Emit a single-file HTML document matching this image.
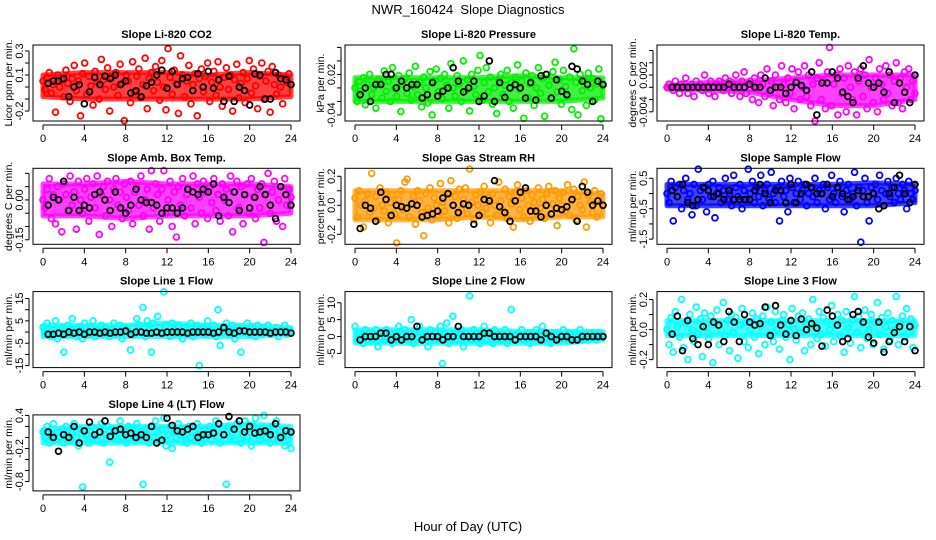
<!DOCTYPE html>
<html><head><meta charset="utf-8"><style>
html,body{margin:0;padding:0;background:#fff;}
svg{display:block;font-family:"Liberation Sans",sans-serif;}
</style></head><body>
<svg id="chart" width="936" height="540" viewBox="0 0 936 540">
<text x="468" y="14" text-anchor="middle" font-size="13">NWR_160424&#160; Slope Diagnostics</text>
<text x="468" y="531" text-anchor="middle" font-size="13">Hour of Day (UTC)</text>
</svg>
<script>
const xTicks=[0,4,8,12,16,20,24];
const bandHours=[0,4,8,12,16,20,24];
const titles=["Slope Li-820 CO2","Slope Li-820 Pressure","Slope Li-820 Temp.","Slope Amb. Box Temp.","Slope Gas Stream RH","Slope Sample Flow","Slope Line 1 Flow","Slope Line 2 Flow","Slope Line 3 Flow","Slope Line 4 (LT) Flow"];
const yTitles=["Licor ppm per min.","kPa per min.","degrees C per min.","degrees C per min.","percent per min.","ml/min per min.","ml/min per min.","ml/min per min.","ml/min per min.","ml/min per min."];
const colors=["#ff0000","#00ee00","#ff00ff","#ff00ff","#ff9900","#0000ff","#00ffff","#00ffff","#00ffff","#00ffff"];
const yMin=[-0.283,-0.049,-0.0055,-0.167,-0.269,-1.67,-15.9,-9.2,-0.253,-0.97];
const yMax=[0.35,0.0636,0.0069,0.119,0.255,0.83,18.1,13.3,0.253,0.41];
const yTickVals=[[-0.2,-0.1,0,0.1,0.2,0.3],[-0.04,-0.02,0,0.02,0.04,0.06],[-0.004,-0.002,0,0.002,0.004,0.006],[-0.15,-0.1,-0.05,0,0.05,0.1],[-0.2,-0.1,0,0.1,0.2],[-1.5,-1,-0.5,0,0.5],[-15,-10,-5,0,5,10,15],[-5,0,5,10],[-0.2,-0.1,0,0.1,0.2],[-0.8,-0.6,-0.4,-0.2,0,0.2,0.4]];
const yTickLabels=[["-0.2","","","0.1","","0.3"],["-0.04","","","0.02","",""],["-0.004","","","0.002","",""],["-0.15","","","0.00","",""],["-0.2","","0.0","","0.2"],["-1.5","","-0.5","","0.5"],["-15","","-5","","5","","15"],["-5","0","5","10"],["-0.2","","0.0","","0.2"],["-0.8","","","-0.2","","","0.4"]];

// dense core of each cloud (low/high at bandHours)
const bandLow=[[-0.08,-0.1,-0.1,-0.1,-0.1,-0.1,-0.08],[-0.02,-0.02,-0.02,-0.02,-0.02,-0.02,-0.015],[-0.0003,-0.0005,-0.0008,-0.002,-0.003,-0.003,-0.002],[-0.06,-0.06,-0.07,-0.06,-0.06,-0.06,-0.05],[-0.1,-0.1,-0.1,-0.08,-0.1,-0.08,-0.08],[-0.4,-0.4,-0.4,-0.4,-0.4,-0.4,-0.3],[-2,-2,-2,-2,-2,-2,-1],[-2,-2,-2,-2,-2,-2,-1],[-0.04,-0.04,-0.04,-0.04,-0.04,-0.04,-0.04],[-0.1,-0.1,-0.1,-0.1,-0.1,-0.1,-0.1]];
const bandHigh=[[0.1,0.12,0.12,0.12,0.1,0.12,0.1],[0.015,0.015,0.015,0.015,0.018,0.015,0.015],[0.0003,0.0008,0.001,0.0015,0.002,0.002,0.002],[0.06,0.06,0.07,0.06,0.06,0.06,0.05],[0.1,0.1,0.1,0.1,0.1,0.1,0.08],[0.3,0.3,0.3,0.3,0.3,0.35,0.3],[3,3,3,4,3,3,2],[2,2,2,2,1.5,1.5,1.5],[0.06,0.06,0.06,0.06,0.06,0.06,0.06],[0.15,0.2,0.2,0.2,0.2,0.25,0.2]];

const co2=[0.05,-0.02,0.08,0.12,-0.05,0.02,-0.21,0.1,0.0,0.06,-0.08,0.14,0.03,-0.12,0.07,0.18,-0.03,0.05,-0.24,0.11,0.2,-0.06,0.09,0.01,-0.15,0.13,0.04,-0.1,0.23,0.06,-0.02,0.16,-0.2,0.08,0.0,0.12,-0.07,0.19,0.03,-0.28,0.1,0.05,-0.13,0.21,-0.04,0.09,0.15,-0.09,0.02,0.24,-0.18,0.07,0.12,-0.03,0.17,0.04,-0.11,0.22,0.0,-0.19,0.32,0.08,-0.06,0.14,0.03,-0.22,0.26,0.1,-0.08,0.05,0.18,-0.14,0.02,0.11,-0.24,0.07,0.15,-0.04,0.09,0.2,-0.12,0.04,0.13,-0.07,0.21,0.0,-0.16,0.08,0.16,-0.02,0.1,-0.2,0.06,0.19,-0.09,0.03,0.12,-0.13,0.07,0.22,-0.05,0.15,0.01,-0.18,0.09,0.2,-0.1,0.05,0.13,-0.21,0.17,0.02,-0.06,0.1,0.0,-0.14,0.08,0.04,0.11,0.02];
const co2Ref=[0.03,0.05,0.05,0.07,-0.08,0.0,0.02,-0.14,-0.04,0.08,0.02,0.09,0.07,0.1,0.02,0.05,-0.05,-0.03,-0.08,0.01,0.04,0.1,0.14,-0.01,0.13,0.02,0.07,0.08,-0.03,0.11,0.0,0.13,-0.01,0.06,-0.12,0.09,-0.12,0.0,-0.03,-0.15,0.11,0.1,-0.1,-0.1,0.12,0.07,0.06,0.02];
const pres=[0.0,-0.02,0.01,-0.005,0.015,-0.025,0.005,0.02,-0.01,0.0,-0.03,0.012,0.008,-0.015,0.025,-0.005,0.01,-0.02,0.03,0.0,-0.012,0.018,-0.035,0.005,0.014,-0.008,0.022,-0.018,0.002,0.032,-0.01,0.008,-0.028,0.016,0.0,-0.022,0.024,-0.04,0.01,0.028,-0.006,0.014,-0.016,0.02,0.004,-0.03,0.036,0.0,-0.012,0.018,0.006,-0.02,0.04,-0.004,0.012,-0.034,0.02,0.002,-0.01,0.026,0.048,-0.018,0.008,0.03,-0.006,0.016,-0.024,0.0,-0.038,0.012,0.02,-0.01,0.004,0.026,-0.02,0.008,-0.03,0.016,0.034,-0.002,0.01,-0.045,0.022,-0.014,0.006,0.018,-0.026,0.0,0.03,-0.008,0.014,-0.042,0.02,0.004,-0.016,0.024,0.038,-0.006,0.012,-0.024,0.026,0.002,-0.012,0.016,-0.032,0.058,0.008,-0.04,0.02,-0.004,0.012,-0.026,0.022,0.0,0.014,-0.018,0.006,0.028,-0.046,0.004];
const presRef=[-0.01,0.0,-0.02,0.005,0.005,0.02,0.02,0.0,0.01,0.0,0.005,0.005,-0.015,-0.01,0.008,-0.012,-0.005,0.0,0.03,0.01,-0.006,0.0,0.01,-0.02,-0.012,0.04,-0.02,0.008,-0.014,0.0,0.005,0.0,-0.015,0.008,-0.018,0.018,0.02,-0.015,0.012,-0.005,-0.01,0.032,0.028,0.01,0.005,-0.02,0.01,0.005];
const ltemp=[0,0.0005,0,-0.0005,0.001,0,-0.001,0.0005,0,0.0015,-0.001,0,0.0005,-0.0015,0.001,0,0.0005,-0.0005,0.002,0,-0.001,0.001,0,-0.0015,0.0005,0.001,0,-0.0005,0.0015,0,0.001,-0.001,0.0005,0.002,0,-0.0015,0.001,0.0025,-0.001,0.0005,0.001,-0.002,0.0015,0,-0.0025,0.002,0.0005,-0.0015,0.003,-0.001,0.001,-0.003,0.002,0,-0.002,0.0035,0.0005,-0.0025,0.0015,-0.001,0.003,-0.0035,0.001,0.0025,-0.002,0,0.0035,-0.0015,0.002,-0.003,0.0005,-0.0055,0.0015,0.004,-0.002,0.001,-0.0035,0.0025,0.0065,-0.003,0.0005,0.002,-0.0045,0.003,-0.001,0.0015,-0.004,0.0035,0,-0.002,0.0025,-0.0045,0.001,0.003,-0.0015,0.002,-0.0035,0.0045,0,-0.0025,0.0015,-0.004,0.003,0.0005,-0.002,0.0035,-0.001,0.002,-0.003,0.001,0.004,-0.0025,0.0015,-0.0035,0.0025,0,0.003,-0.002,0.001,-0.001];
const ltempRef=[0,0,0,0,0,0,0,0,0,0,0,0.0005,0,0,0,0.0005,0,0,0.0015,-0.0005,0,0,-0.001,0,0.0008,0.0003,-0.0005,0.0025,-0.0045,0.0007,0.0007,0.0025,0.0015,-0.0008,-0.0015,-0.0025,0.0015,0.0035,0.0007,0,0.0007,-0.0008,0.0025,-0.0025,0.0007,-0.0008,-0.0025,0.002];
const amb=[0.0,-0.03,0.04,0.08,-0.07,0.02,-0.09,0.05,0.0,-0.12,0.06,0.02,-0.04,0.09,-0.02,0.03,-0.11,0.07,0.0,-0.05,0.04,0.08,-0.08,0.01,0.06,-0.03,0.09,-0.13,0.02,0.05,-0.06,0.07,0.0,-0.1,0.04,0.08,-0.02,0.03,-0.07,0.06,0.01,-0.04,0.07,-0.09,0.03,0.05,-0.02,0.09,-0.06,0.0,0.04,-0.11,0.11,-0.03,0.06,0.02,-0.08,0.04,0.11,-0.05,0.0,0.07,-0.1,0.03,-0.14,0.05,-0.02,0.08,-0.06,0.02,0.04,-0.03,0.09,-0.09,0.06,0.01,-0.05,0.07,0.03,-0.07,0.05,-0.01,0.08,-0.04,0.02,-0.08,0.06,0.0,0.04,-0.06,0.09,-0.12,0.03,0.07,-0.03,0.05,-0.09,0.02,0.06,-0.05,0.08,0.01,-0.07,0.04,-0.03,0.06,-0.16,0.02,0.1,-0.05,0.03,0.07,-0.08,0.0,0.05,-0.1,0.08,-0.02,0.04,0.01];
const ambRef=[-0.02,0.01,0.0,0.07,-0.04,0.01,-0.04,-0.02,-0.03,0.02,0.03,0.0,-0.04,0.03,-0.03,-0.05,-0.02,0.04,0.0,-0.01,-0.01,-0.02,-0.05,-0.03,-0.03,-0.05,-0.03,0.04,0.03,0.02,0.04,0.03,0.06,-0.06,0.01,-0.01,0.03,-0.04,0.02,-0.03,0.01,0.05,0.02,-0.02,-0.07,0.05,0.02,-0.02];
const rh=[0.05,-0.08,0.1,0.0,-0.15,0.03,0.08,-0.05,0.22,-0.02,0.06,-0.1,0.12,0.0,-0.04,0.09,-0.12,0.02,0.07,-0.06,-0.26,0.04,0.1,-0.03,0.16,0.18,-0.08,0.01,0.06,-0.13,0.1,0.03,-0.05,-0.21,0.08,-0.02,0.12,-0.1,0.05,0.0,-0.07,0.15,0.02,-0.04,0.08,-0.12,0.17,0.0,0.06,-0.09,0.11,-0.03,0.04,0.12,-0.06,0.25,0.02,-0.1,0.07,0.0,0.09,-0.05,0.13,-0.02,0.05,-0.12,0.08,0.0,-0.07,0.16,0.03,-0.04,0.11,-0.09,0.06,0.01,-0.15,0.09,0.14,-0.03,0.05,-0.08,0.1,0.0,-0.11,0.07,0.02,-0.05,0.12,-0.02,0.04,-0.09,0.08,0.13,-0.06,0.01,0.1,-0.14,0.05,0.0,0.09,-0.04,0.14,-0.07,0.03,0.11,-0.1,0.06,0.0,-0.03,0.16,-0.15,0.07,0.02,-0.05,0.1,-0.08,0.04,0.08,0.0];
const rhRef=[-0.16,0.0,-0.02,-0.11,0.09,0.04,-0.07,0.0,-0.01,-0.02,0.01,0.0,-0.08,-0.07,-0.06,-0.04,0.05,0.08,0.0,-0.05,0.01,0.0,-0.13,-0.07,0.04,0.03,0.17,-0.01,-0.05,-0.11,0.03,0.09,0.12,-0.04,-0.04,-0.08,0.0,-0.06,-0.02,-0.03,-0.01,0.04,-0.11,0.13,0.09,0.0,0.03,0.0];
const sflow=[0.0,-0.3,0.4,-0.9,0.2,-0.1,0.3,-0.5,0.1,0.5,-0.2,0.0,-0.7,0.3,-0.4,0.8,0.1,-0.2,0.2,-0.6,0.3,-0.1,0.4,-0.8,0.0,0.2,-0.3,0.1,0.5,-0.2,0.0,-0.4,0.6,0.2,-0.1,0.3,-0.5,0.1,-0.2,0.8,0.0,0.4,-0.3,0.2,-0.1,0.6,-0.4,0.1,0.3,-0.2,0.7,0.0,-0.3,0.2,-0.9,0.4,-0.1,0.1,-0.6,0.5,0.2,-0.3,0.0,0.4,-0.2,0.1,0.3,-0.4,0.0,0.2,-0.1,0.5,-0.3,0.1,0.0,0.3,-0.5,0.2,-0.2,0.6,0.0,-0.3,0.2,0.4,-0.1,-0.6,0.1,0.3,-0.2,0.0,0.7,-0.4,0.2,-1.6,0.1,0.5,-0.3,-0.9,0.2,0.0,0.3,-0.2,0.6,0.1,-0.4,0.0,0.4,-0.1,0.2,-0.3,0.5,0.0,-0.2,0.3,0.1,-0.5,0.4,0.0,-0.2,0.1];
const sflowRef=[0.1,-0.1,0.3,-0.3,-0.4,-0.2,0.2,0.1,-0.1,0.0,-0.2,0.1,-0.2,-0.2,-0.2,-0.2,0.1,0.3,0.0,-0.3,0.1,0.1,-0.3,0.3,-0.3,0.0,0.3,0.2,0.0,0.0,0.3,-0.1,0.2,0.0,-0.2,-0.1,0.1,-0.1,-0.1,0.0,-0.5,-0.4,0.0,0.2,0.6,0.0,-0.3,0.3];
const line1=[2,-1,4,0,-2,1,5,-3,0,2,-9,1,3,-1,6,0,-2,2,1,-3,4,0,-1,2,5,-2,1,0,3,-1,2,0,-2,1,4,-1,0,3,-3,2,1,0,-8,2,-1,6,3,0,11,-2,5,1,-9,4,0,7,2,-1,18,3,0,-2,4,1,-1,3,0,-3,2,1,0,4,-2,1,3,-15,0,2,-1,5,1,0,3,-2,10,-6,2,0,4,-1,1,3,-3,0,2,-9,1,0,4,-1,2,0,-2,3,1,-1,2,0,3,-1,1,0,2,-2,1,0,3,-1,1,0];
const line1Ref=[-1,-1,-0.5,-1,0,-0.5,0,-1,0,0,-0.5,0,-0.5,0,0,0.5,-1,0,0,-0.5,-0.5,0,-0.5,0,0,0,0,-0.5,0,0,0,0,-0.5,0,2,0,-0.5,0.5,0.5,0,0,0,0,-0.5,0,0,0,-0.5];
const line2=[3,-1,1,0,-2,2,0,1,-1,0,2,-3,1,0,-1,2,0,1,-2,0,1,3,-1,0,2,-1,0,5,-2,1,0,3,-1,0,1,-3,2,0,-1,1,0,3,-8,1,4,-2,0,6,1,-1,0,2,-3,0,1,12,-1,2,0,1,-2,0,3,-1,1,0,-2,2,0,1,-1,0,2,-2,1,8,0,-1,1,0,2,-1,0,1,-2,1,0,2,-1,0,3,-1,1,0,-2,1,0,1,-1,0,2,0,-1,1,0,-1,1,0,2,-1,0,1,-1,0,1,0,-1,1,0,0];
const line2Ref=[-1,0,0,0,1,1,-1,0,-1,0,0,3,-1,0,0,0,-1,0,0,3,0,0,0,0,1,1,0,0,0,0,-1,0,0,0,0,-1,1,0,-1,0,0,-1,-1,0,0,0,0,0];
const line3=[0.0,-0.1,0.08,-0.15,0.12,0.02,-0.05,0.2,-0.12,0.05,-0.2,0.1,0.0,-0.08,0.15,-0.03,0.07,-0.18,0.11,0.01,-0.06,0.09,-0.22,0.04,0.13,-0.1,0.0,0.18,-0.04,0.06,-0.14,0.1,-0.02,0.08,-0.19,0.03,0.14,-0.08,0.05,-0.12,0.0,0.11,-0.05,0.07,-0.16,0.02,0.09,-0.1,0.15,-0.03,0.05,-0.08,0.12,0.0,-0.13,0.06,0.1,-0.05,0.03,-0.2,0.14,0.0,-0.07,0.09,-0.02,0.11,-0.14,0.04,0.07,-0.1,0.2,0.02,-0.06,0.12,-0.03,0.08,-0.11,0.05,0.0,0.16,-0.08,0.03,0.1,-0.04,0.06,-0.15,0.12,0.01,-0.09,0.07,0.22,-0.02,0.09,-0.12,0.04,0.13,-0.06,0.0,0.1,-0.1,0.05,0.18,-0.03,0.08,-0.13,0.02,0.11,-0.07,0.06,0.0,0.22,-0.1,0.04,0.09,-0.05,0.14,-0.02,0.07,-0.12,0.03];
const line3Ref=[-0.03,0.09,-0.14,0.06,-0.06,-0.1,0.02,-0.1,0.05,0.03,-0.08,0.12,0.05,-0.08,0.1,0.05,0.03,0.04,0.15,-0.04,0.16,0.03,-0.03,0.06,-0.04,0.07,0.0,0.04,0.01,-0.11,0.13,0.09,0.03,-0.08,-0.06,0.1,0.12,0.05,-0.05,-0.09,0.05,-0.15,-0.08,-0.02,0.02,-0.08,0.02,-0.14];
const line4=[0.1,0.0,0.2,-0.1,0.05,0.25,-0.05,0.1,0.0,0.15,-0.1,0.2,0.05,-0.05,0.1,0.25,0.0,-0.15,0.15,-0.9,0.1,0.05,-0.1,0.2,0.0,0.15,-0.05,0.1,0.25,-0.1,0.05,0.2,-0.45,0.0,0.15,0.1,-0.05,0.3,0.0,0.1,-0.1,0.2,0.05,0.15,-0.05,0.25,0.0,0.1,-0.85,0.15,0.05,-0.1,0.2,0.0,0.3,0.1,-0.05,0.15,0.35,-0.15,0.05,0.2,-0.2,0.1,0.0,0.25,-0.05,0.15,0.05,-0.1,0.2,0.0,0.1,-0.05,0.25,0.05,-0.1,0.15,0.0,0.1,0.2,-0.05,0.1,0.3,0.0,-0.1,0.15,0.05,-0.85,0.2,0.0,0.1,-0.05,0.25,0.15,-0.1,0.05,0.3,0.0,0.1,-0.15,0.2,0.35,0.05,-0.05,0.15,0.4,0.0,0.1,-0.1,0.2,0.05,0.3,-0.05,0.1,0.0,-0.15,0.15,0.05,-0.2];
const line4Ref=[0.1,0.0,-0.25,0.05,0.0,0.2,-0.1,0.12,0.28,0.05,0.1,0.3,0.02,0.12,0.15,0.05,0.08,0.0,0.05,0.0,0.2,-0.1,-0.05,0.35,0.22,0.12,0.1,0.15,0.2,0.0,0.05,0.05,0.08,0.25,0.05,0.38,0.15,0.3,0.1,0.2,0.08,0.1,0.12,0.05,0.25,0.0,0.12,0.1];

const series=[co2,pres,ltemp,amb,rh,sflow,line1,line2,line3,line4];
const refSeries=[co2Ref,presRef,ltempRef,ambRef,rhRef,sflowRef,line1Ref,line2Ref,line3Ref,line4Ref];

const NS="http://www.w3.org/2000/svg";
const svg=document.getElementById('chart');
function mk(tag,attrs,parent){const e=document.createElementNS(NS,tag);for(const k in attrs)e.setAttribute(k,attrs[k]);(parent||svg).appendChild(e);return e;}

for(let p=0;p<10;p++){
  const col=p%3,row=Math.floor(p/3);
  const L=33+col*312,R=L+267,T=45+row*123.3,B=T+76;
  const xS=h=>L+10+h*(248/24);
  const yS=v=>B-(v-yMin[p])/(yMax[p]-yMin[p])*(B-T);
  const g=mk('g',{});
  
  
  const t=mk('text',{x:(L+R)/2,y:T-7,'text-anchor':'middle','font-size':11,'font-weight':'bold'},g);
  t.textContent=titles[p];
  
  
  const yt=mk('text',{x:0,y:0,transform:`translate(${L-21},${(T+B)/2}) rotate(-90)`,'text-anchor':'middle','font-size':10.5},g);
  yt.textContent=yTitles[p];
  
  
  // dense core band
  let d='';
  bandHours.forEach((h,k)=>{d+=(k?'L':'M')+xS(h)+','+yS(bandHigh[p][k]);});
  for(let k=bandHours.length-1;k>=0;k--){d+='L'+xS(bandHours[k])+','+yS(bandLow[p][k]);}
  const band=mk('path',{d:d+'Z',fill:colors[p],'fill-opacity':0.75,stroke:colors[p],'stroke-width':5,'stroke-linejoin':'round','stroke-opacity':0.75},g);
  
  
  // points
  const pts=mk('g',{fill:'none',stroke:colors[p],'stroke-width':1.8},g);
  
  
  const s=series[p];
  for(let i=0;i<s.length;i++){
    const c=mk('circle',{cx:xS(i*24/(s.length-1)),cy:yS(s[i]),r:2.9},pts);
    
    
  }
  const bp=mk('g',{fill:'none',stroke:'#000','stroke-width':1.8},g);
  
  
  const r=refSeries[p];
  for(let i=0;i<r.length;i++){
    const c=mk('circle',{cx:xS(0.5+i*23.5/(r.length-1)),cy:yS(r[i]),r:2.9},bp);
    
    
  }
  const box=mk('rect',{x:L,y:T,width:R-L,height:B-T,fill:'none',stroke:'#000','stroke-width':1},g);
  
  
  const xa=mk('g',{stroke:'#000','stroke-width':1},g);
  
  
  mk('line',{x1:xS(xTicks[0]),x2:xS(xTicks[xTicks.length-1]),y1:B+4,y2:B+4},xa);
  xTicks.forEach(h=>{
    mk('line',{x1:xS(h),x2:xS(h),y1:B+4,y2:B+9},xa);
    const tl=mk('text',{x:xS(h),y:B+21,'text-anchor':'middle','font-size':11,stroke:'none',fill:'#000'},xa);
    tl.textContent=h;
    
    
  });
  const ya=mk('g',{stroke:'#000','stroke-width':1},g);
  
  
  const tv=yTickVals[p];
  mk('line',{x1:L-4,x2:L-4,y1:yS(tv[0]),y2:yS(tv[tv.length-1])},ya);
  tv.forEach((v,k)=>{
    mk('line',{x1:L-4,x2:L-8,y1:yS(v),y2:yS(v)},ya);
    const lab=yTickLabels[p][k];
    if(lab){
      const tl=mk('text',{x:0,y:0,transform:`translate(${L-10},${yS(v)}) rotate(-90)`,'text-anchor':'middle','font-size':11,stroke:'none',fill:'#000'},ya);
      tl.textContent=lab;
      
      
    }
  });
}
</script>
</body></html>
